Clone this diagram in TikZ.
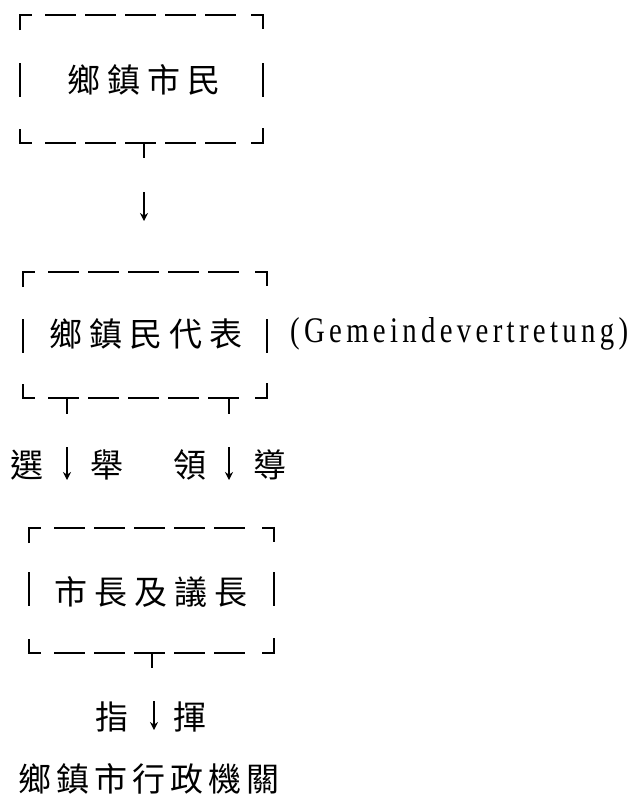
\documentclass[tikz,border=0pt]{standalone}
\usepackage{fontspec}
\newfontfamily\cjk{Noto Sans CJK TC}
\newfontfamily\latf[LetterSpace=15]{Liberation Serif}
\usetikzlibrary{arrows.meta}
\newcommand\sepk{\kern7pt}
\newcommand\sepl{\kern5pt}
% #1 L, #2 R, #3 top, #4 mid, #5 bottom
\newcommand\tbox[5]{%
  \draw[ln] (#1,#3+15) -- (#1,#3) -- (#1+12,#3);
  \draw[ln,dash pattern=on 31pt off 9pt] (#1+25,#3) -- (#2-25,#3);
  \draw[ln] (#2-12,#3) -- (#2,#3) -- (#2,#3+14);
  \draw[ln] (#1,#4-17) -- (#1,#4+17);
  \draw[ln] (#2,#4-17) -- (#2,#4+17);
  \draw[ln] (#1,#5-14) -- (#1,#5) -- (#1+12,#5);
  \draw[ln,dash pattern=on 31pt off 9pt] (#1+25,#5) -- (#2-25,#5);
  \draw[ln] (#2-12,#5) -- (#2,#5) -- (#2,#5-15);
}
\begin{document}
\begin{tikzpicture}[x=1pt,y=-1pt,
  ln/.style={line width=1.5pt},
  arr/.style={line width=1.3pt,-{Stealth[length=8pt,width=8pt]}},
  cj/.style={font=\cjk\fontsize{33}{36}\selectfont,inner sep=0pt,anchor=base},
  lt/.style={font=\latf\fontsize{36}{40}\selectfont,inner sep=0pt,anchor=base west,xscale=0.8}]
\useasboundingbox (0,0) rectangle (643,801);
% boxes
\tbox{20}{263}{15}{80}{143}
\tbox{23}{267}{272}{336}{398}
\tbox{29}{274}{528}{589}{653}
% texts
\node[cj] (b1) at (144,92) {鄉\sepk 鎮\sepk 市\sepk 民};
\node[cj] (b2) at (146,346) {鄉\sepk 鎮\sepk 民\sepk 代\sepk 表};
\node[lt] (gem) at (290,342) {(Gemeindevertretung)};
\node[cj] (l1) at (27,477) {選};
\node[cj] (l2) at (107,477) {舉};
\node[cj] (l3) at (190,477) {領};
\node[cj] (l4) at (270,477) {導};
\node[cj] (b3) at (151,604) {市\sepk 長\sepk 及\sepk 議\sepk 長};
\node[cj] (l5) at (112,729) {指};
\node[cj] (l6) at (190,729) {揮};
\node[cj] (b4) at (149,791) {鄉\sepl 鎮\sepl 市\sepl 行\sepl 政\sepl 機\sepl 關};
% T stubs
\coordinate (t1a) at (144,143); \coordinate (t1b) at (144,158);
\coordinate (t2a) at (67,398);  \coordinate (t2b) at (67,414);
\coordinate (t3a) at (229,398); \coordinate (t3b) at (229,414);
\coordinate (t4a) at (152,653); \coordinate (t4b) at (152,668);
\draw[ln] (t1a) -- (t1b);
\draw[ln] (t2a) -- (t2b);
\draw[ln] (t3a) -- (t3b);
\draw[ln] (t4a) -- (t4b);
% arrows
\coordinate (a1s) at (144,192); \coordinate (a1e) at (144,221);
\coordinate (a2s) at (67,447);  \coordinate (a2e) at (67,480);
\coordinate (a3s) at (229,447); \coordinate (a3e) at (229,480);
\coordinate (a4s) at (154,701); \coordinate (a4e) at (154,730);
\draw[arr] (a1s) -- (a1e);
\draw[arr] (a2s) -- (a2e);
\draw[arr] (a3s) -- (a3e);
\draw[arr] (a4s) -- (a4e);
\end{tikzpicture}
\end{document}
